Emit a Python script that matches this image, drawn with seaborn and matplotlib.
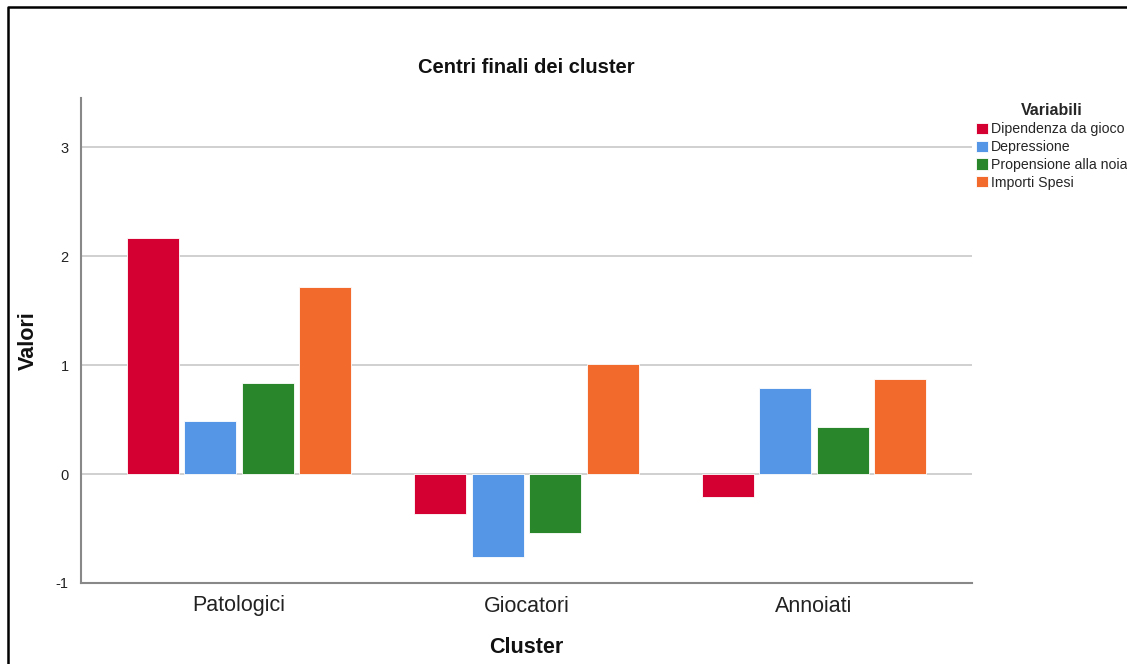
import matplotlib
matplotlib.use("Agg")
import matplotlib.pyplot as plt
import seaborn as sns
import pandas as pd
from matplotlib.lines import Line2D

clusters = ["Patologici", "Giocatori", "Annoiati"]
variables = ["Dipendenza da gioco", "Depressione", "Propensione alla noia", "Importi Spesi"]
dipendenza = [2.165, -0.367, -0.21]
depressione = [0.486, -0.759, 0.79]
noia = [0.835, -0.544, 0.428]
importi = [1.716, 1.006, 0.874]
colors = ["#D50032", "#5596E6", "#2A862A", "#F26A2C"]

series = [dipendenza, depressione, noia, importi]
rows = []
for var, vals in zip(variables, series):
    for c, v in zip(clusters, vals):
        rows.append({"Cluster": c, "Variabili": var, "Valori": v})
df = pd.DataFrame(rows)

sns.set_theme(style="white")
plt.rcParams["font.family"] = ["Liberation Sans", "DejaVu Sans"]

W, H = 1127, 664
fig = plt.figure(figsize=(W / 100, H / 100), dpi=100)
ax = fig.add_axes([81 / W, 1 - 583 / H, (972 - 81) / W, (583 - 98) / H])

sns.barplot(data=df, x="Cluster", y="Valori", hue="Variabili", order=clusters,
            hue_order=variables, palette=colors, saturation=1, width=0.8, gap=0.1,
            edgecolor="white", linewidth=0.6, ax=ax, legend=True, errorbar=None)

ax.set_ylim(-1, 3.45)
ax.set_xlim(-0.55, 2.55)
ax.set_yticks([-1, 0, 1, 2, 3])
ax.set_yticklabels(["-1", "0", "1", "2", "3"], fontsize=10.5, color="#222222")
ax.tick_params(axis="x", labelsize=15.5, colors="#222222", length=0, pad=9)
ax.tick_params(axis="y", length=0, pad=9)

ax.yaxis.grid(True, color="#C8C8C8", linewidth=1.2)
ax.set_axisbelow(True)
for s in ["top", "right"]:
    ax.spines[s].set_visible(False)
for s in ["left", "bottom"]:
    ax.spines[s].set_color("#888888")
    ax.spines[s].set_linewidth(1.5)

ax.set_xlabel("Cluster", fontsize=15.5, fontweight="bold", labelpad=15, color="#111111")
ax.set_ylabel("Valori", fontsize=15.5, fontweight="bold", labelpad=12, color="#111111")
ax.set_title("Centri finali dei cluster", fontsize=14.5, fontweight="bold", pad=18, color="#111111")

leg = ax.legend(loc="upper left", bbox_to_anchor=(975 / W, 1 - 102 / H),
                bbox_transform=fig.transFigure, frameon=False, fontsize=10.2,
                title="Variabili", handlelength=0.85, handleheight=0.85,
                handletextpad=0.15, labelspacing=0.27, borderpad=0.1,
                borderaxespad=0)
leg.get_title().set_fontweight("bold")
leg.get_title().set_fontsize(11.5)
leg._legend_box.align = "center"

fig.add_artist(Line2D([8 / W, 8 / W, 1.0], [0.0, 1 - 7 / H, 1 - 7 / H],
                      transform=fig.transFigure, color="black", linewidth=1.8))

fig.savefig("out.png", dpi=100)
